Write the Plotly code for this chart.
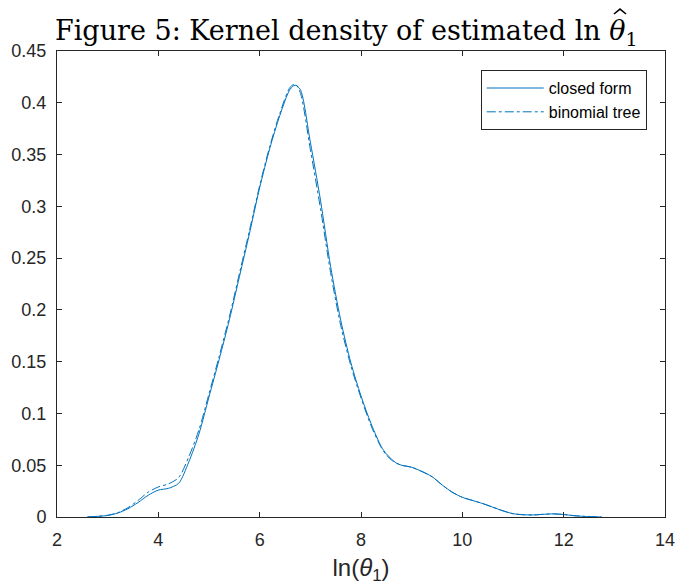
import plotly.graph_objects as go

# Kernel density estimates of ln(theta_1)
x_grid = [2.6, 2.8, 3.0, 3.2, 3.4, 3.6, 3.8, 4.0, 4.2, 4.4, 4.6, 4.8, 5.0, 5.2, 5.4,
          5.6, 5.8, 6.0, 6.2, 6.4, 6.6, 6.7, 6.8, 7.0, 7.2, 7.4, 7.6, 7.8, 8.0, 8.2,
          8.4, 8.5, 8.6, 8.7, 8.8, 9.0, 9.2, 9.4, 9.6, 9.8, 10.0, 10.2, 10.4, 10.6, 10.8,
          11.0, 11.2, 11.4, 11.6, 11.8, 12.0, 12.2, 12.4, 12.6, 12.75]

density_closed = [0.0, 0.0006, 0.0015, 0.0038, 0.008, 0.014, 0.021, 0.026, 0.0277, 0.0325,
                  0.053, 0.080, 0.116, 0.152, 0.190, 0.232, 0.274, 0.318, 0.356, 0.388,
                  0.413, 0.417, 0.413, 0.362, 0.306, 0.242, 0.190, 0.149, 0.117, 0.090,
                  0.068, 0.061, 0.056, 0.052, 0.050, 0.048, 0.044, 0.039, 0.031, 0.024,
                  0.019, 0.016, 0.013, 0.0095, 0.006, 0.0032, 0.0022, 0.002, 0.0026,
                  0.003, 0.0024, 0.0013, 0.0006, 0.0002, 0.0]

density_tree = [0.0, 0.0007, 0.0017, 0.0042, 0.009, 0.016, 0.024, 0.029, 0.032, 0.038,
                0.058, 0.084, 0.119, 0.155, 0.193, 0.235, 0.277, 0.320, 0.358, 0.390,
                0.415, 0.418, 0.410, 0.355, 0.298, 0.236, 0.185, 0.146, 0.115, 0.088,
                0.067, 0.060, 0.055, 0.052, 0.050, 0.048, 0.044, 0.039, 0.031, 0.024,
                0.019, 0.016, 0.013, 0.0095, 0.006, 0.0032, 0.0022, 0.002, 0.0026,
                0.003, 0.0024, 0.0013, 0.0006, 0.0002, 0.0]

x_ticks = [2, 4, 6, 8, 10, 12, 14]
y_ticks = [0, 0.05, 0.1, 0.15, 0.2, 0.25, 0.3, 0.35, 0.4, 0.45]
y_tick_text = ["0", "0.05", "0.1", "0.15", "0.2", "0.25", "0.3", "0.35", "0.4", "0.45"]

BLUE = "#0072BD"
AXIS = "#262626"
SANS = "Liberation Sans, Arial, sans-serif"
SERIF = "DejaVu Serif, Liberation Serif, serif"

fig = go.Figure()
fig.add_trace(go.Scatter(x=x_grid, y=density_closed, mode="lines", name="closed form",
                         line=dict(color=BLUE, width=1, shape="spline", smoothing=0.8)))
fig.add_trace(go.Scatter(x=x_grid, y=density_tree, mode="lines", name="binomial tree",
                         line=dict(color=BLUE, width=1, dash="dashdot", shape="spline",
                                   smoothing=0.8)))

axis_common = dict(showline=True, linecolor=AXIS, linewidth=1, mirror="ticks",
                   ticks="inside", ticklen=5, tickcolor=AXIS, showgrid=False,
                   zeroline=False, ticklabeloverflow="allow", automargin=False,
                   tickfont=dict(family=SANS, size=18, color=AXIS))

fig.update_layout(
    width=675, height=586,
    margin=dict(l=57, r=10, t=51, b=69, autoexpand=False),
    paper_bgcolor="white", plot_bgcolor="white",
    title=dict(text="Figure 5: Kernel density of estimated ln <i>θ</i><sub>1</sub>",
               font=dict(family=SERIF, size=27, color="black"),
               x=0.513, xref="container", xanchor="center",
               y=0.948, yref="container", yanchor="middle"),
    xaxis=dict(range=[2, 14], tickvals=x_ticks, ticklabelstandoff=6,
               title=dict(text="ln(<i>θ</i><sub>1</sub>)", standoff=10,
                          font=dict(family=SANS, size=24, color=AXIS)),
               **axis_common),
    yaxis=dict(range=[0, 0.45], tickvals=y_ticks, ticktext=y_tick_text,
               ticklabelstandoff=6, **axis_common),
    legend=dict(x=0.97, y=0.959, xanchor="right", yanchor="top",
                bgcolor="white", bordercolor=AXIS, borderwidth=1,
                font=dict(family=SANS, size=16, color="black"),
                itemwidth=57, tracegroupgap=0),
    showlegend=True,
)

# hat accent drawn over the theta in the title
fig.add_shape(type="path", xref="paper", yref="paper",
              path="M 0.9161 1.0794 L 0.9260 1.0901 L 0.9359 1.0794",
              line=dict(color="black", width=1.6))

fig.write_html("out.html")
